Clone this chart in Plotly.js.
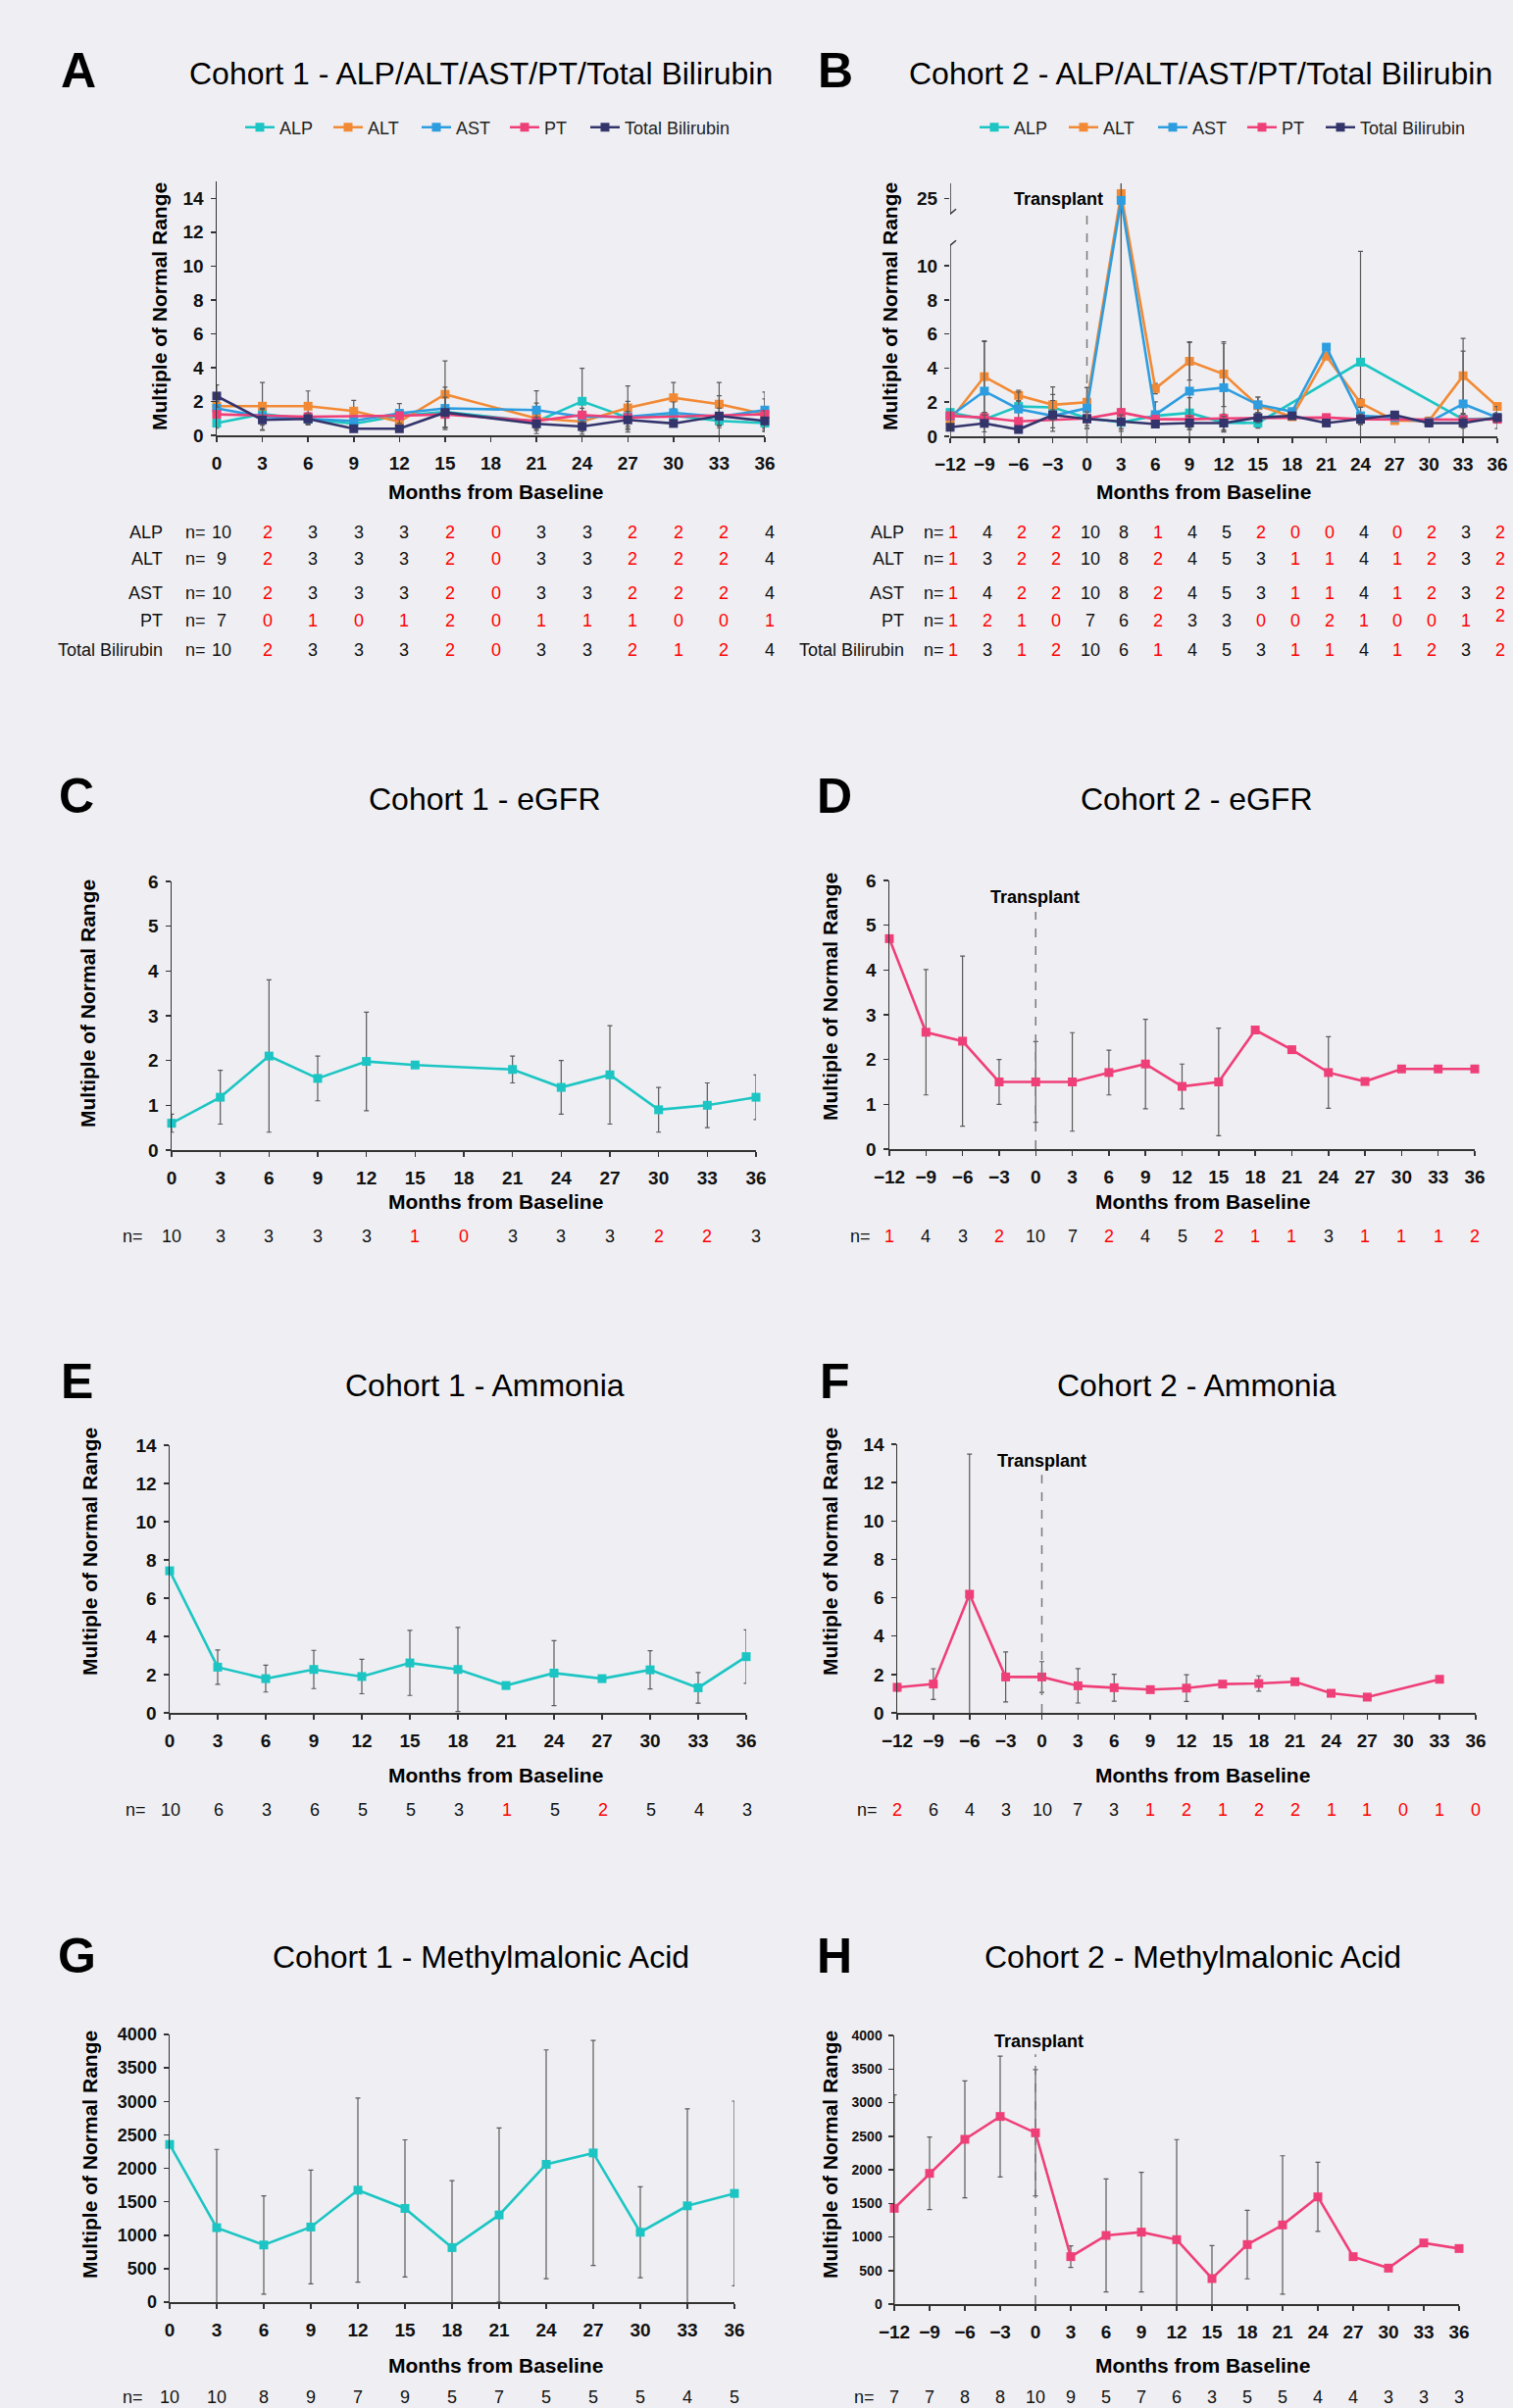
<!DOCTYPE html>
<html><head><meta charset="utf-8">
<script src="https://cdn.plot.ly/plotly-3.0.1.min.js"></script>
<style>html,body{margin:0;padding:0;background:#efeff3;} #chart{width:1543px;height:2456px;}</style>
</head><body><div id="chart"></div>
<script>
// ================= DATA =================
const monthsC1 = [0,3,6,9,12,15,18,21,24,27,30,33,36];
const monthsC2 = [-12,-9,-6,-3,0,3,6,9,12,15,18,21,24,27,30,33,36];
const seriesNames = ['ALP','ALT','AST','PT','Total Bilirubin'];

// Panel A - Cohort 1 liver panel
const c1_ALP = [0.72,1.26,0.97,0.68,1.16,1.39,null,0.81,2.01,1.04,1.16,0.85,0.72];
const c1_ALP_sd = [0.3,0.4,0.3,0.2,0.3,0.9,null,0.4,1.95,0.5,0.4,0.4,0.5];
const c1_ALT = [1.72,1.72,1.72,1.43,0.81,2.42,null,1.0,0.81,1.62,2.22,1.84,1.25];
const c1_ALT_sd = [0.3,1.4,0.9,0.63,0.4,1.97,null,0.9,0.4,1.3,0.9,1.28,0.9];
const c1_AST = [1.59,1.1,0.97,0.85,1.3,1.59,null,1.49,1.1,1.1,1.33,1.1,1.49];
const c1_AST_sd = [0.4,0.5,0.35,0.3,0.58,1.25,null,1.14,0.5,0.9,0.64,0.5,1.06];
const c1_PT = [1.24,null,1.1,null,1.16,1.24,null,0.85,1.2,1.04,null,null,1.24];
const c1_PT_sd = [0.2,null,null,null,null,0.2,null,null,null,null,null,null,null];
const c1_TB = [2.32,0.91,0.97,0.39,0.39,1.35,null,0.68,0.52,0.91,0.7,1.14,0.85];
const c1_TB_sd = [0.65,0.62,0.3,0.1,0.1,0.9,null,0.4,0.3,0.5,null,1.2,0.6];
const c1_n_ALP = [10,2,3,3,3,2,0,3,3,2,2,2,4];
const c1_n_ALT = [9,2,3,3,3,2,0,3,3,2,2,2,4];
const c1_n_AST = [10,2,3,3,3,2,0,3,3,2,2,2,4];
const c1_n_PT  = [7,0,1,0,1,2,0,1,1,1,0,0,1];
const c1_n_TB  = [10,2,3,3,3,2,0,3,3,2,1,2,4];

// Panel B - Cohort 2 liver panel (true values; y axis is broken between ~11 and ~24)
const c2_ALP = [1.4,1.0,1.75,1.7,1.08,0.82,1.2,1.37,0.8,0.78,null,null,4.35,null,null,1.0,1.05];
const c2_ALP_sd = [null,0.4,0.3,1.2,0.6,0.4,null,0.9,0.5,0.3,null,null,6.5,null,null,0.3,0.2];
const c2_ALT = [0.95,3.5,2.4,1.85,2.0,25.3,2.8,4.4,3.65,1.8,1.15,4.7,1.95,0.92,0.9,3.55,1.75];
const c2_ALT_sd = [null,2.1,0.3,0.6,0.85,25,0.3,1.1,1.9,0.5,null,null,0.25,null,0.15,2.2,0.15];
const c2_AST = [1.18,2.65,1.6,1.2,1.65,24.9,1.27,2.65,2.85,1.85,1.45,5.23,1.2,1.1,0.83,1.9,1.1];
const c2_AST_sd = [null,2.9,1.0,0.9,1.2,25,0.75,2.9,2.6,0.45,null,null,0.5,null,0.25,3.1,0.65];
const c2_PT = [1.2,1.1,0.88,null,1.05,1.4,1.0,1.0,1.05,null,null,1.1,1.0,null,null,0.98,1.0];
const c2_PT_sd = [null,0.3,null,null,0.2,0.2,0.1,0.2,0.2,null,null,0.1,null,null,null,null,0.1];
const c2_TB = [0.53,0.76,0.4,1.25,1.02,0.86,0.72,0.78,0.78,1.1,1.2,0.78,1.0,1.25,0.78,0.78,1.1];
const c2_TB_sd = [null,0.5,null,0.3,0.4,0.4,null,0.4,0.4,0.3,null,null,0.3,null,0.2,0.3,0.3];
const c2_n_ALP = [1,4,2,2,10,8,1,4,5,2,0,0,4,0,2,3,2];
const c2_n_ALT = [1,3,2,2,10,8,2,4,5,3,1,1,4,1,2,3,2];
const c2_n_AST = [1,4,2,2,10,8,2,4,5,3,1,1,4,1,2,3,2];
const c2_n_PT  = [1,2,1,0,7,6,2,3,3,0,0,2,1,0,0,1,2];
const c2_n_TB  = [1,3,1,2,10,6,1,4,5,3,1,1,4,1,2,3,2];

// Panel C / D - eGFR
const c1_eGFR = [0.6,1.18,2.1,1.6,1.98,1.9,null,1.8,1.4,1.68,0.9,1.0,1.18];
const c1_eGFR_sd = [0.2,0.6,1.7,0.5,1.1,null,null,0.3,0.6,1.1,0.5,0.5,0.5];
const c1_eGFR_n = [10,3,3,3,3,1,0,3,3,3,2,2,3];
const c2_eGFR = [4.7,2.61,2.41,1.5,1.5,1.5,1.71,1.9,1.4,1.5,2.66,2.22,1.71,1.51,1.79,1.79,1.79];
const c2_eGFR_sd = [null,1.4,1.9,0.5,0.9,1.1,0.5,1.0,0.5,1.2,null,null,0.8,null,null,null,null];
const c2_eGFR_n = [1,4,3,2,10,7,2,4,5,2,1,1,3,1,1,1,2];

// Panel E / F - Ammonia
const c1_NH3 = [7.43,2.39,1.79,2.27,1.9,2.61,2.27,1.43,2.08,1.79,2.25,1.31,2.94];
const c1_NH3_sd = [null,0.9,0.7,1.0,0.9,1.7,2.2,null,1.7,null,1.0,0.8,1.4];
const c1_NH3_n = [10,6,3,6,5,5,3,1,5,2,5,4,3];
const c2_NH3 = [1.33,1.5,6.18,1.87,1.87,1.41,1.31,1.21,1.29,1.5,1.53,1.62,1.02,0.82,null,1.75,null];
const c2_NH3_sd = [0.2,0.8,7.3,1.3,0.8,0.9,0.7,null,0.7,null,0.4,null,null,null,null,null,null];
const c2_NH3_n = [2,6,4,3,10,7,3,1,2,1,2,2,1,1,0,1,0];

// Panel G / H - Methylmalonic Acid
const c1_MMA = [2356,1112,854,1122,1673,1400,815,1302,2059,2229,1044,1439,1624];
const c1_MMA_sd = [null,1170,735,850,1375,1025,1000,1300,1710,1680,680,1450,1380];
const c1_MMA_n = [10,10,8,9,7,9,5,7,5,5,5,4,5];
const c2_MMA = [1426,1946,2453,2793,2550,706,1022,1071,959,380,886,1178,1596,706,535,910,827];
const c2_MMA_sd = [1690,540,870,900,940,160,840,890,1490,490,510,1030,515,null,null,null,null];
const c2_MMA_n = [7,7,8,8,10,9,5,7,6,3,5,5,4,4,3,3,3];

// ================= STYLE / LAYOUT =================
const W = 1543, H = 2456;
const FONT = 'Liberation Sans, Arial, Helvetica, sans-serif';
const BG = '#efeff3';
const COLORS = {ALP:'#1cc5c3', ALT:'#f28a35', AST:'#2d9de0', PT:'#ef3f78', 'Total Bilirubin':'#34346c'};
const AXC = '#333333';
const px = v => v / W;
const py = v => 1 - v / H;

// broken axis for panel B
const BR = {lowTop: 11.2, highBottom: 24.1, gap: 1.84};
function T(v){
  if (v == null) return null;
  if (v <= BR.lowTop) return v;
  if (v >= BR.highBottom) return v - BR.highBottom + BR.lowTop + BR.gap;
  return BR.lowTop + BR.gap * (v - BR.lowTop) / (BR.highBottom - BR.lowTop);
}

const legendBase = {orientation:'h', xanchor:'left', y: py(130), yanchor:'middle',
  font:{family:FONT, size:18, color:'#222'}, bgcolor:'rgba(0,0,0,0)', itemwidth: 30};
const layout = {
  width: W, height: H,
  margin: {l:0, r:0, t:0, b:0},
  paper_bgcolor: BG, plot_bgcolor: BG,
  hovermode: false,
  font: {family: FONT, color: '#111'},
  annotations: [], shapes: [],
  // A: first four series share fixed spacing, Total Bilirubin in its own legend box
  legend:  Object.assign({x: px(245), entrywidth: 45, entrywidthmode:'pixels'}, legendBase),
  legend3: Object.assign({x: px(597)}, legendBase),
  // B
  legend2: Object.assign({x: px(994), entrywidth: 46, entrywidthmode:'pixels'}, legendBase),
  legend4: Object.assign({x: px(1347)}, legendBase)
};

const panels = [
  {id:'',  letter:'A', title:'Cohort 1 - ALP/ALT/AST/PT/Total Bilirubin', xd:[221,780], yd:[444,185], xr:[0,36], yr:[0,15], dt:2, lx:80, ly:72, tx:490, ty:75, ytx:162, yty:313, xtx:505, xty:502, ytf:19},
  {id:'2', letter:'B', title:'Cohort 2 - ALP/ALT/AST/PT/Total Bilirubin', xd:[969,1527], yd:[445,187], xr:[-12,36], yr:[0,T(25.9)], dt:2, lx:852, ly:72, tx:1224, ty:75, ytx:907, yty:313, xtx:1227, xty:502, ytf:19, broken:true},
  {id:'3', letter:'C', title:'Cohort 1 - eGFR', xd:[175,771], yd:[1173,899], xr:[0,36], yr:[0,6], dt:1, lx:78, ly:812, tx:494, ty:815, ytx:90, yty:1024, xtx:505, xty:1225, ytf:19},
  {id:'4', letter:'D', title:'Cohort 2 - eGFR', xd:[907,1504], yd:[1172,898], xr:[-12,36], yr:[0,6], dt:1, lx:851, ly:812, tx:1220, ty:815, ytx:846, yty:1017, xtx:1226, xty:1225, ytf:19},
  {id:'5', letter:'E', title:'Cohort 1 - Ammonia', xd:[173,761], yd:[1747,1474], xr:[0,36], yr:[0,14], dt:2, lx:78, ly:1409, tx:494, ty:1413, ytx:91, yty:1583, xtx:505, xty:1810, ytf:19},
  {id:'6', letter:'F', title:'Cohort 2 - Ammonia', xd:[915,1505], yd:[1747,1473], xr:[-12,36], yr:[0,14], dt:2, lx:851, ly:1409, tx:1220, ty:1413, ytx:846, yty:1583, xtx:1226, xty:1810, ytf:19},
  {id:'7', letter:'G', title:'Cohort 1 - Methylmalonic Acid', xd:[173,749], yd:[2348,2075], xr:[0,36], yr:[0,4000], dt:500, lx:78, ly:1995, tx:490, ty:1996, ytx:91, yty:2198, xtx:505, xty:2412, ytf:18},
  {id:'8', letter:'H', title:'Cohort 2 - Methylmalonic Acid', xd:[912,1488], yd:[2350,2076], xr:[-12,36], yr:[0,4000], dt:500, lx:851, ly:1995, tx:1216, ty:1996, ytx:846, yty:2198, xtx:1226, xty:2412, ytf:14}
];

const tickFont = s => ({family:FONT, size:s, color:'#111', weight:'bold'});
panels.forEach(p => {
  const xa = 'xaxis' + p.id, ya = 'yaxis' + p.id;
  layout[xa] = {domain:[px(p.xd[0]), px(p.xd[1])], range:p.xr, anchor:'y'+p.id,
    tickmode:'linear', tick0:0, dtick:3, ticks:'outside', ticklen:5, tickwidth:1.5, tickcolor:AXC,
    showline:true, linecolor:AXC, linewidth:1.5, showgrid:false, zeroline:false,
    tickfont:tickFont(19), ticklabelstandoff:6, fixedrange:true};
  layout[ya] = {domain:[py(p.yd[0]), py(p.yd[1])], range:p.yr, anchor:'x'+p.id,
    tickmode:'linear', tick0:0, dtick:p.dt, ticks:'outside', ticklen:5, tickwidth:1.5, tickcolor:AXC,
    showline:true, linecolor:AXC, linewidth:1.5, showgrid:false, zeroline:false,
    tickfont:tickFont(p.ytf), ticklabelstandoff:3, fixedrange:true};
  if (p.broken) {
    const tv = [0,2,4,6,8,10,25];
    layout[ya].tickmode = 'array';
    layout[ya].tickvals = tv.map(T);
    layout[ya].ticktext = tv.map(String);
    layout[ya].showline = false;
    const xref = 'x'+p.id, yref = 'y'+p.id;
    layout.shapes.push({type:'line', xref, yref, x0:p.xr[0], x1:p.xr[0], y0:0, y1:BR.lowTop, line:{color:AXC, width:1.5}});
    layout.shapes.push({type:'line', xref, yref, x0:p.xr[0], x1:p.xr[0], y0:BR.lowTop+BR.gap, y1:p.yr[1], line:{color:AXC, width:1.5}});
    [BR.lowTop, BR.lowTop+BR.gap].forEach(b => layout.shapes.push({type:'line', xref, yref,
      xsizemode:'pixel', xanchor:p.xr[0], x0:-6, x1:6, ysizemode:'pixel', yanchor:b, y0:-5, y1:5,
      line:{color:AXC, width:1.5}}));
  }
  layout.annotations.push({text:p.letter, xref:'paper', yref:'paper', x:px(p.lx), y:py(p.ly), xanchor:'center', yanchor:'middle',
    showarrow:false, font:{family:FONT, size:50, color:'#000', weight:'bold'}});
  layout.annotations.push({text:p.title, xref:'paper', yref:'paper', x:px(p.tx), y:py(p.ty), xanchor:'center', yanchor:'middle',
    showarrow:false, font:{family:FONT, size:32, color:'#000'}});
  layout.annotations.push({text:'Multiple of Normal Range', xref:'paper', yref:'paper', x:px(p.ytx), y:py(p.yty), xanchor:'center', yanchor:'middle',
    textangle:-90, showarrow:false, font:{family:FONT, size:21, color:'#000', weight:'bold'}});
  layout.annotations.push({text:'Months from Baseline', xref:'paper', yref:'paper', x:px(p.xtx), y:py(p.xty), xanchor:'center', yanchor:'middle',
    showarrow:false, font:{family:FONT, size:21, color:'#000', weight:'bold'}});
});

// ================= TRACES =================
const traces = [];
function addTrace(id, x, y, sd, color, name, legend, transform) {
  const tf = transform || (v => v);
  const yy = y.map(v => v == null ? null : tf(v));
  const plus = y.map((v,i) => (v == null || sd[i] == null) ? null : tf(v + sd[i]) - tf(v));
  const minus = y.map((v,i) => (v == null || sd[i] == null) ? null : tf(v) - tf(v - sd[i]));
  const t = {type:'scatter', mode:'lines+markers', x, y:yy, xaxis:'x'+id, yaxis:'y'+id,
    name: name || '', showlegend: !!legend, connectgaps:true, cliponaxis:false,
    line:{color, width:2.6}, marker:{color, symbol:'square', size:9},
    error_y:{type:'data', symmetric:false, array:plus, arrayminus:minus, color:'#5a5a5a', thickness:1.2, width:2.5}};
  if (legend) t.legend = legend;
  traces.push(t);
}

const c1Liver = [[c1_ALP,c1_ALP_sd],[c1_ALT,c1_ALT_sd],[c1_AST,c1_AST_sd],[c1_PT,c1_PT_sd],[c1_TB,c1_TB_sd]];
const c2Liver = [[c2_ALP,c2_ALP_sd],[c2_ALT,c2_ALT_sd],[c2_AST,c2_AST_sd],[c2_PT,c2_PT_sd],[c2_TB,c2_TB_sd]];
seriesNames.forEach((nm,i) => addTrace('', monthsC1, c1Liver[i][0], c1Liver[i][1], COLORS[nm], nm, i < 4 ? 'legend' : 'legend3'));
seriesNames.forEach((nm,i) => addTrace('2', monthsC2, c2Liver[i][0], c2Liver[i][1], COLORS[nm], nm, i < 4 ? 'legend2' : 'legend4', T));

const TEAL = '#1cc5c3', PINK = '#ef3f78';
addTrace('3', monthsC1, c1_eGFR, c1_eGFR_sd, TEAL);
addTrace('4', monthsC2, c2_eGFR, c2_eGFR_sd, PINK);
addTrace('5', monthsC1, c1_NH3, c1_NH3_sd, TEAL);
addTrace('6', monthsC2, c2_NH3, c2_NH3_sd, PINK);
addTrace('7', monthsC1, c1_MMA, c1_MMA_sd, TEAL);
addTrace('8', monthsC2, c2_MMA, c2_MMA_sd, PINK);

// ================= TRANSPLANT MARKERS =================
const transplant = [
  {id:'2', top:13.2, tx:1079, ty:203},
  {id:'4', top:5.3, tx:1055, ty:915},
  {id:'6', top:12.4, tx:1062, ty:1490},
  {id:'8', top:3720, tx:1059, ty:2082}
];
transplant.forEach(t => {
  layout.shapes.push({type:'line', xref:'x'+t.id, yref:'y'+t.id, x0:0, x1:0, y0:0, y1:t.top,
    line:{color:'#7a7a7a', width:1.5, dash:'dash'}});
  layout.annotations.push({text:'Transplant', xref:'paper', yref:'paper', x:px(t.tx), y:py(t.ty), xanchor:'center', yanchor:'middle',
    showarrow:false, font:{family:FONT, size:18, color:'#000', weight:'bold'}});
});

// ================= n= TABLES =================
const nColor = n => n < 3 ? '#ff0000' : '#111';
function nRow(id, months, ns, yPix, xshift, label, labelRight, nLeft, lastShift) {
  if (label) layout.annotations.push({text:label, xref:'paper', yref:'paper', x:px(labelRight), y:py(yPix), xanchor:'right', yanchor:'middle',
    showarrow:false, font:{family:FONT, size:18, color:'#111'}});
  layout.annotations.push({text:'n=', xref:'paper', yref:'paper', x:px(nLeft), y:py(yPix), xanchor:'left', yanchor:'middle',
    showarrow:false, font:{family:FONT, size:18, color:'#111'}});
  ns.forEach((n,i) => layout.annotations.push({text:String(n), xref:'x'+id, yref:'paper', x:months[i], y:py(yPix),
    xanchor:'center', yanchor:'middle', xshift:xshift, yshift:(lastShift && i === ns.length-1) ? lastShift : 0,
    showarrow:false, font:{family:FONT, size:18, color:nColor(n)}}));
}
const rowY = [543, 570, 605, 633, 663];
const c1N = [c1_n_ALP, c1_n_ALT, c1_n_AST, c1_n_PT, c1_n_TB];
const c2N = [c2_n_ALP, c2_n_ALT, c2_n_AST, c2_n_PT, c2_n_TB];
seriesNames.forEach((nm,i) => nRow('', monthsC1, c1N[i], rowY[i], 5, nm, 168, 187));
seriesNames.forEach((nm,i) => nRow('2', monthsC2, c2N[i], rowY[i], 3, nm, 924, 940, nm === 'PT' ? 5 : 0));
nRow('3', monthsC1, c1_eGFR_n, 1261, 0, null, 0, 123);
nRow('4', monthsC2, c2_eGFR_n, 1261, 0, null, 0, 865);
nRow('5', monthsC1, c1_NH3_n, 1846, 1, null, 0, 126);
nRow('6', monthsC2, c2_NH3_n, 1846, 0, null, 0, 872);
nRow('7', monthsC1, c1_MMA_n, 2445, 0, null, 0, 123);
nRow('8', monthsC2, c2_MMA_n, 2445, 0, null, 0, 869);

Plotly.newPlot('chart', traces, layout, {staticPlot:true, displayModeBar:false});
</script>
</body></html>
